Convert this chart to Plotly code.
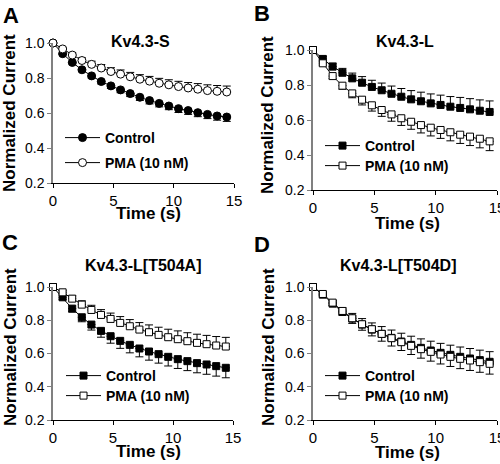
import plotly.graph_objects as go

time_s = [0, 0.8, 1.6, 2.4, 3.2, 4.0, 4.8, 5.6, 6.4, 7.2, 8.0, 8.8, 9.6, 10.4, 11.2, 12.0, 12.8, 13.6, 14.4]

panel_letters = ["A", "B", "C", "D"]
panel_titles = ["Kv4.3-S", "Kv4.3-L", "Kv4.3-L[T504A]", "Kv4.3-L[T504D]"]
series_names = ["Control", "PMA (10 nM)"]
x_ticks = [0, 5, 10, 15]
y_ticks = [0.2, 0.4, 0.6, 0.8, 1.0]

a_control = [1.0, 0.939, 0.889, 0.847, 0.812, 0.780, 0.755, 0.732, 0.711, 0.690, 0.671, 0.655, 0.640, 0.625, 0.614, 0.602, 0.592, 0.583, 0.577]
a_pma = [1.0, 0.966, 0.931, 0.900, 0.878, 0.857, 0.837, 0.822, 0.807, 0.793, 0.782, 0.770, 0.761, 0.751, 0.743, 0.736, 0.728, 0.724, 0.720]
a_control_err = [0, .005, .008, .010, .012, .014, .015, .016, .017, .018, .019, .020, .021, .022, .022, .023, .024, .024, .025]
a_pma_err = [0, .008, .012, .015, .018, .020, .022, .024, .025, .026, .027, .028, .029, .030, .031, .032, .033, .033, .034]

b_control = [1.0, 0.949, 0.905, 0.870, 0.838, 0.813, 0.789, 0.770, 0.750, 0.733, 0.718, 0.707, 0.695, 0.686, 0.676, 0.669, 0.661, 0.653, 0.646]
b_pma = [1.0, 0.924, 0.851, 0.796, 0.752, 0.716, 0.684, 0.657, 0.632, 0.610, 0.590, 0.571, 0.556, 0.543, 0.530, 0.516, 0.505, 0.493, 0.478]
b_control_err = [0, .015, .020, .025, .030, .035, .038, .041, .044, .047, .050, .052, .054, .056, .058, .060, .061, .062, .063]
b_pma_err = [0, .010, .015, .020, .025, .030, .033, .036, .039, .041, .043, .045, .047, .048, .049, .050, .051, .052, .053]

c_control = [1.0, 0.938, 0.870, 0.818, 0.774, 0.736, 0.704, 0.676, 0.652, 0.630, 0.612, 0.596, 0.580, 0.566, 0.554, 0.542, 0.534, 0.524, 0.514]
c_pma = [1.0, 0.968, 0.930, 0.894, 0.862, 0.832, 0.808, 0.784, 0.764, 0.744, 0.728, 0.712, 0.698, 0.686, 0.674, 0.664, 0.656, 0.648, 0.642]
c_control_err = [0, .012, .020, .027, .033, .038, .042, .045, .048, .050, .052, .054, .055, .056, .057, .058, .059, .060, .060]
c_pma_err = [0, .010, .017, .023, .028, .032, .035, .038, .040, .042, .044, .046, .048, .050, .051, .052, .053, .054, .055]

d_control = [1.0, 0.954, 0.900, 0.850, 0.810, 0.774, 0.744, 0.718, 0.694, 0.672, 0.652, 0.634, 0.618, 0.604, 0.592, 0.580, 0.570, 0.560, 0.550]
d_pma = [1.0, 0.958, 0.906, 0.856, 0.812, 0.776, 0.746, 0.718, 0.692, 0.668, 0.646, 0.626, 0.610, 0.594, 0.580, 0.568, 0.558, 0.548, 0.538]
d_control_err = [0, .010, .018, .025, .031, .036, .040, .044, .047, .050, .052, .054, .056, .057, .058, .059, .060, .060, .061]
d_pma_err = [0, .010, .018, .025, .031, .036, .040, .044, .047, .050, .052, .054, .056, .057, .058, .059, .060, .061, .062]

W, H = 500, 464
FONT = "Arial, Liberation Sans, sans-serif"

# panel geometry in pixels: (x0, x1, y_top(1.0), y_bottom(0.2))
panels = [
    dict(x0=53, x1=234, yt=43, yb=183, ctrl=a_control, pma=a_pma, ce=a_control_err, pe=a_pma_err,
         csign="minus", psign="plus", sym="circle",
         leg=(60, 138, 163), title=(140, 41), letter=(11, 15), ytitle=(10, 113), xtitle=(148, 213)),
    dict(x0=313, x1=497, yt=50, yb=190, ctrl=b_control, pma=b_pma, ce=b_control_err, pe=b_pma_err,
         csign="plus", psign="minus", sym="square",
         leg=(320, 146, 166), title=(405, 41), letter=(262, 13), ytitle=(268, 115), xtitle=(407, 223)),
    dict(x0=53, x1=233, yt=287, yb=420, ctrl=c_control, pma=c_pma, ce=c_control_err, pe=c_pma_err,
         csign="minus", psign="plus", sym="square",
         leg=(61, 376, 396), title=(143, 265), letter=(10, 243), ytitle=(10, 347), xtitle=(148, 451)),
    dict(x0=313, x1=497, yt=287, yb=420, ctrl=d_control, pma=d_pma, ce=d_control_err, pe=d_pma_err,
         csign="plus", psign="minus", sym="square",
         leg=(320, 376, 396), title=(398, 265), letter=(262, 244), ytitle=(268, 347), xtitle=(407, 452)),
]
fills = ["black", "white"]

fig = go.Figure()
annotations = []
layout = {}
leg_idx = 0
for i, p in enumerate(panels):
    n = "" if i == 0 else str(i + 1)
    xa, ya = "x" + n, "y" + n
    layout["xaxis" + n] = dict(
        domain=[p["x0"] / W, p["x1"] / W], range=[0, 15], tickvals=x_ticks, automargin=False,
        ticklabeloverflow="allow",
        showline=True, linecolor="black", linewidth=1, ticks="outside", ticklen=4,
        tickcolor="black", showgrid=False, zeroline=False, anchor=ya,
        tickfont=dict(family=FONT, size=15, color="black"), fixedrange=True)
    layout["yaxis" + n] = dict(
        domain=[1 - p["yb"] / H, 1 - p["yt"] / H], range=[0.2, 1.0], tickvals=y_ticks, automargin=False,
        ticklabeloverflow="allow",
        tickformat=".1f", showline=True, linecolor="#808080", linewidth=1.5, ticks="outside",
        ticklen=4, tickcolor="#808080", showgrid=False, zeroline=False, anchor=xa,
        tickfont=dict(family=FONT, size=14, color="black"), fixedrange=True)
    series = [(p["ctrl"], p["ce"], p["csign"]), (p["pma"], p["pe"], p["psign"])]
    for k, (vals, err, sign) in enumerate(series):
        leg_idx += 1
        lname = "legend" if leg_idx == 1 else "legend" + str(leg_idx)
        zeros = [0] * len(err)
        if sign == "plus":
            ey = dict(type="data", array=err, arrayminus=zeros, symmetric=False,
                      color="black", thickness=1, width=4)
        else:
            ey = dict(type="data", array=zeros, arrayminus=err, symmetric=False,
                      color="black", thickness=1, width=4)
        fig.add_trace(go.Scatter(
            x=time_s, y=vals, xaxis=xa, yaxis=ya, mode="lines+markers", name=series_names[k],
            line=dict(color="black", width=1),
            marker=dict(symbol=p["sym"], size=8 if p["sym"] == "circle" else 7, color=fills[k],
                        line=dict(color="black", width=1)),
            error_y=ey, cliponaxis=False, legend=lname, showlegend=True))
        lx, ly = p["leg"][0], p["leg"][1 + k]
        layout[lname] = dict(
            x=lx / W, y=1 - ly / H, xanchor="left", yanchor="middle", xref="paper", yref="paper",
            bgcolor="rgba(0,0,0,0)", borderwidth=0, itemwidth=35,
            font=dict(family=FONT, size=14, color="black", weight="bold"))
    annotations.append(dict(text=panel_titles[i], x=p["title"][0] / W, y=1 - p["title"][1] / H,
                            xref="paper", yref="paper", showarrow=False, xanchor="center", yanchor="middle",
                            font=dict(family=FONT, size=16, color="black", weight="bold")))
    annotations.append(dict(text=panel_letters[i], x=p["letter"][0] / W, y=1 - p["letter"][1] / H,
                            xref="paper", yref="paper", showarrow=False, xanchor="center", yanchor="middle",
                            font=dict(family=FONT, size=22, color="black", weight="bold")))
    annotations.append(dict(text="Normalized Current", x=p["ytitle"][0] / W, y=1 - p["ytitle"][1] / H,
                            xref="paper", yref="paper", showarrow=False, textangle=-90,
                            xanchor="center", yanchor="middle",
                            font=dict(family=FONT, size=17, color="black", weight="bold")))
    annotations.append(dict(text="Time (s)", x=p["xtitle"][0] / W, y=1 - p["xtitle"][1] / H,
                            xref="paper", yref="paper", showarrow=False, xanchor="center", yanchor="middle",
                            font=dict(family=FONT, size=17, color="black", weight="bold")))

fig.update_layout(
    width=W, height=H, margin=dict(l=0, r=0, t=0, b=0, autoexpand=False),
    paper_bgcolor="white", plot_bgcolor="white", annotations=annotations, **layout)

fig.write_html("out.html", config={"displayModeBar": False},
               post_script="document.body.style.margin='0';document.body.style.overflow='hidden';")
